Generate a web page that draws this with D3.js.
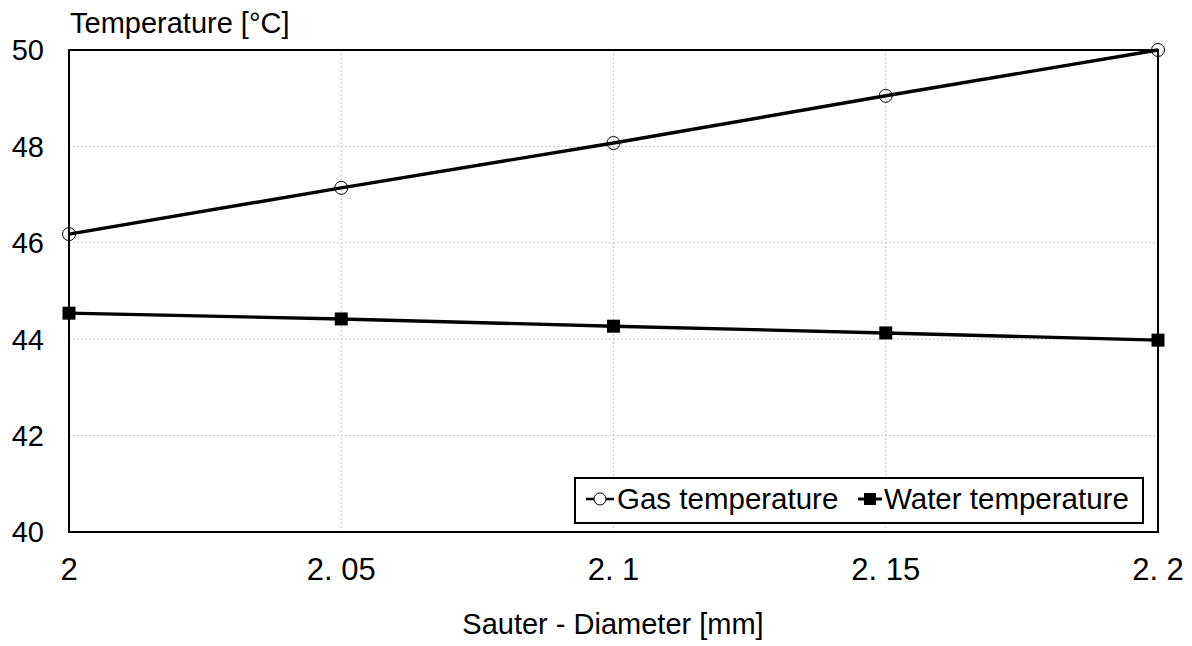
<!DOCTYPE html>
<html>
<head>
<meta charset="utf-8">
<script src="https://cdn.jsdelivr.net/npm/d3@7"></script>
<style>
  body { margin: 0; background: #fff; }
  text { font-family: Arial, "Liberation Sans", sans-serif; fill: #000; }
</style>
</head>
<body>
<script>
const WIDTH = 1192;
const HEIGHT = 646;

var diameters = [2.0, 2.05, 2.1, 2.15, 2.2];
var gasTemp = [46.18, 47.14, 48.07, 49.05, 50.0];
var waterTemp = [44.54, 44.42, 44.27, 44.13, 43.98];
var xTickLabels = ['2', '2. 05', '2. 1', '2. 15', '2. 2'];
var yTicks = [40, 42, 44, 46, 48, 50];

var margin = {left: 69, right: 34, top: 50, bottom: 114};

var svg = d3.select('body').append('svg')
    .attr('width', WIDTH)
    .attr('height', HEIGHT);

var x = d3.scaleLinear()
    .domain([2.0, 2.2])
    .range([margin.left, WIDTH - margin.right]);
var y = d3.scaleLinear()
    .domain([40, 50])
    .range([HEIGHT - margin.bottom, margin.top]);

// grid
svg.append('g').selectAll('line.hg')
    .data(yTicks.slice(1, -1))
    .enter().append('line')
    .attr('x1', x(2.0)).attr('x2', x(2.2))
    .attr('y1', d => y(d)).attr('y2', d => y(d))
    .attr('stroke', '#c8c8c8').attr('stroke-width', 1)
    .attr('stroke-dasharray', '2,2');
svg.append('g').selectAll('line.vg')
    .data(diameters.slice(1, -1))
    .enter().append('line')
    .attr('x1', d => x(d)).attr('x2', d => x(d))
    .attr('y1', y(40)).attr('y2', y(50))
    .attr('stroke', '#c8c8c8').attr('stroke-width', 1)
    .attr('stroke-dasharray', '2,2');

// frame
svg.append('rect')
    .attr('x', x(2.0)).attr('y', y(50))
    .attr('width', x(2.2) - x(2.0))
    .attr('height', y(40) - y(50))
    .attr('fill', 'none')
    .attr('stroke', '#000')
    .attr('stroke-width', 2);

// axes labels
svg.append('g').selectAll('text')
    .data(yTicks)
    .enter().append('text')
    .attr('x', 44)
    .attr('y', d => y(d))
    .attr('dy', '0.36em')
    .attr('text-anchor', 'end')
    .style('font-size', '29px')
    .text(d => d);

svg.append('g').selectAll('text')
    .data(diameters)
    .enter().append('text')
    .attr('x', d => x(d))
    .attr('y', 580)
    .attr('text-anchor', 'middle')
    .style('font-size', '31px')
    .text((d, i) => xTickLabels[i]);

svg.append('text')
    .attr('x', 70).attr('y', 33)
    .style('font-size', '29px')
    .text('Temperature [°C]');

svg.append('text')
    .attr('x', 613).attr('y', 634)
    .attr('text-anchor', 'middle')
    .style('font-size', '29px')
    .text('Sauter - Diameter [mm]');

// lines
var line = d3.line()
    .x((d, i) => x(diameters[i]))
    .y(d => y(d));

svg.append('path')
    .datum(gasTemp)
    .attr('d', line)
    .attr('fill', 'none')
    .attr('stroke', '#000')
    .attr('stroke-width', 3.4);
svg.append('path')
    .datum(waterTemp)
    .attr('d', line)
    .attr('fill', 'none')
    .attr('stroke', '#000')
    .attr('stroke-width', 3.4);

svg.append('g').selectAll('circle')
    .data(gasTemp)
    .enter().append('circle')
    .attr('cx', (d, i) => x(diameters[i]))
    .attr('cy', d => y(d))
    .attr('r', 6.5)
    .attr('fill', 'none')
    .attr('stroke', '#000')
    .attr('stroke-width', 1);

svg.append('g').selectAll('rect')
    .data(waterTemp)
    .enter().append('rect')
    .attr('x', (d, i) => x(diameters[i]) - 6.5)
    .attr('y', d => y(d) - 6.5)
    .attr('width', 13).attr('height', 13)
    .attr('fill', '#000');

// legend
var legend = svg.append('g');
legend.append('rect')
    .attr('x', 575).attr('y', 478)
    .attr('width', 568).attr('height', 45)
    .attr('fill', '#fff')
    .attr('stroke', '#000')
    .attr('stroke-width', 2);
legend.append('line')
    .attr('x1', 586).attr('x2', 614).attr('y1', 499).attr('y2', 499)
    .attr('stroke', '#000').attr('stroke-width', 2.5);
legend.append('circle')
    .attr('cx', 600).attr('cy', 499).attr('r', 6)
    .attr('fill', '#fff').attr('stroke', '#000').attr('stroke-width', 1);
legend.append('text')
    .attr('x', 617).attr('y', 509)
    .style('font-size', '29.5px')
    .text('Gas temperature');
legend.append('line')
    .attr('x1', 858).attr('x2', 882).attr('y1', 499).attr('y2', 499)
    .attr('stroke', '#000').attr('stroke-width', 3);
legend.append('rect')
    .attr('x', 864).attr('y', 493).attr('width', 12).attr('height', 12)
    .attr('fill', '#000');
legend.append('text')
    .attr('x', 884).attr('y', 509)
    .style('font-size', '29.5px')
    .text('Water temperature');
</script>
</body>
</html>
